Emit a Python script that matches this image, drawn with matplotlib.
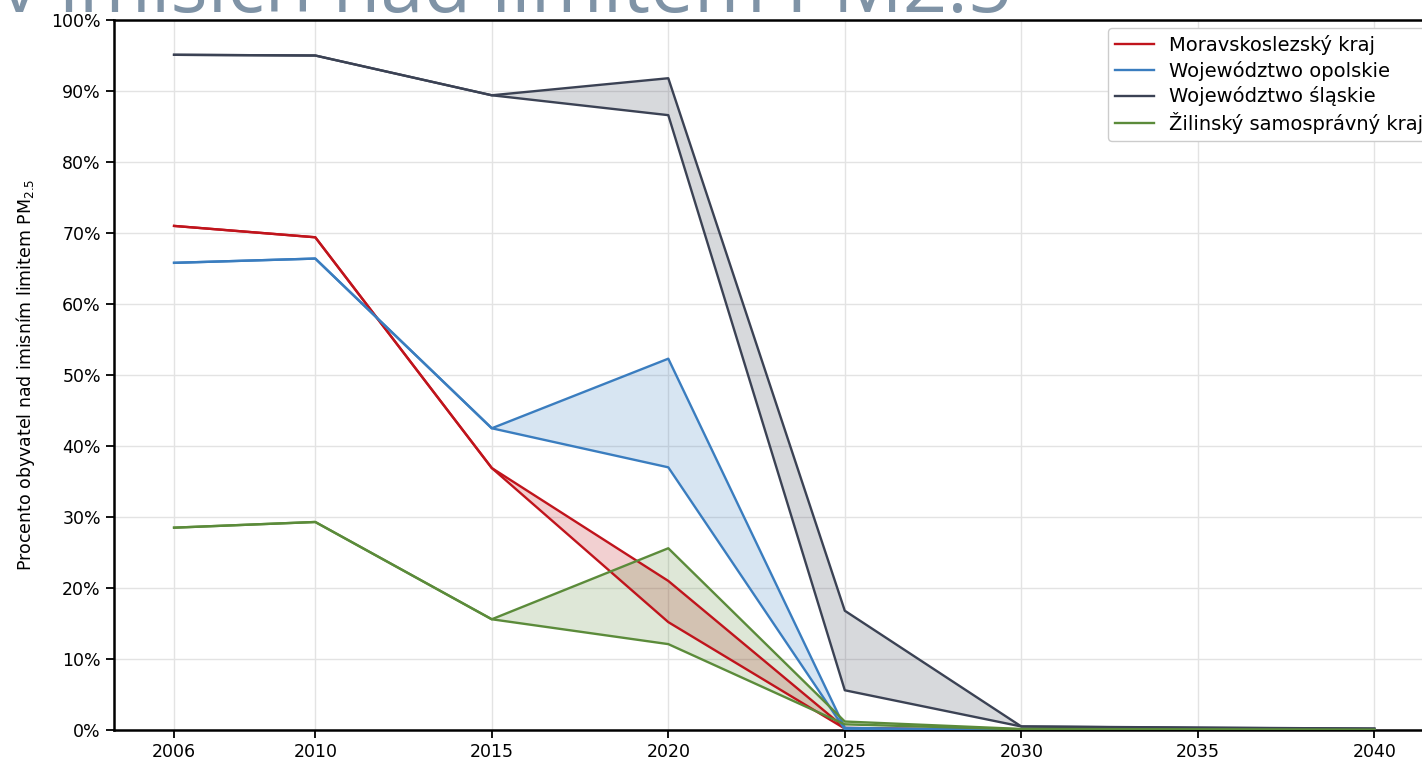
import matplotlib
matplotlib.use("Agg")
import matplotlib.pyplot as plt
import numpy as np

years = [2006, 2010, 2015, 2020, 2025, 2030, 2035, 2040]
regions = ["Moravskoslezský kraj", "Województwo opolskie", "Województwo śląskie", "Žilinský samosprávný kraj"]
colors = ["#c0141c", "#3a7dbf", "#3b4254", "#5b8b3a"]

# upper scenario and lower scenario (identical up to 2015)
mor_upper = [71.0, 69.4, 36.9, 21.0, 0.3, 0.0, 0.0, 0.0]
mor_lower = [71.0, 69.4, 36.9, 15.2, 0.2, 0.0, 0.0, 0.0]
opo_upper = [65.8, 66.4, 42.5, 52.3, 0.3, 0.0, 0.0, 0.0]
opo_lower = [65.8, 66.4, 42.5, 37.0, 0.1, 0.0, 0.0, 0.0]
sla_upper = [95.1, 95.0, 89.4, 91.8, 16.8, 0.5, 0.35, 0.2]
sla_lower = [95.1, 95.0, 89.4, 86.6, 5.6, 0.5, 0.3, 0.2]
zil_upper = [28.5, 29.3, 15.6, 25.6, 1.2, 0.15, 0.1, 0.05]
zil_lower = [28.5, 29.3, 15.6, 12.1, 0.8, 0.1, 0.05, 0.0]

uppers = [mor_upper, opo_upper, sla_upper, zil_upper]
lowers = [mor_lower, opo_lower, sla_lower, zil_lower]

fig = plt.figure(figsize=(14.22, 7.61), dpi=100)
ax = fig.add_axes([0.0802, 0.0407, 0.9198, 0.933])

yrs = np.array(years)
for name, c, up, lo in zip(regions, colors, uppers, lowers):
    up = np.array(up); lo = np.array(lo)
    m = yrs >= 2015
    ax.fill_between(yrs[m], lo[m], up[m], color=c, alpha=0.2, lw=0, zorder=2)
    ax.plot(yrs, up, color=c, lw=1.7, label=name, zorder=3)
    ax.plot(yrs, lo, color=c, lw=1.7, zorder=3)

ax.set_xlim(2004.3, 2041.35)
ax.set_ylim(0, 100)
ax.set_xticks(years)
ax.set_xticklabels([str(y) for y in years])
ax.set_yticks(np.arange(0, 101, 10))
ax.set_yticklabels([f"{v}%" for v in range(0, 101, 10)])
ax.tick_params(axis="both", labelsize=12.5, length=6, width=1.3, color="black")
ax.grid(True, color="#e3e3e3", lw=1, zorder=0)
ax.set_axisbelow(True)
for s in ["left", "bottom", "top"]:
    ax.spines[s].set_linewidth(1.8)
    ax.spines[s].set_color("black")
ax.spines["right"].set_visible(False)
ax.set_ylabel("Procento obyvatel nad imisním limitem PM$_{2.5}$", fontsize=12.5, labelpad=10)

leg = ax.legend(loc="upper left", bbox_to_anchor=(1108 / 1422, 1 - 28 / 761),
                bbox_transform=fig.transFigure, fontsize=14, frameon=True, framealpha=1,
                edgecolor="#cccccc", borderpad=0.35, handlelength=2.0, handletextpad=0.8,
                labelspacing=0.3, borderaxespad=0.0)

fig.text(0.0, 1 - 12 / 761, "v imisích nad limitem PM2.5", fontsize=56, color="#7f93a6",
         ha="left", va="baseline", family="Open Sans")

fig.savefig("out.png", dpi=100)
